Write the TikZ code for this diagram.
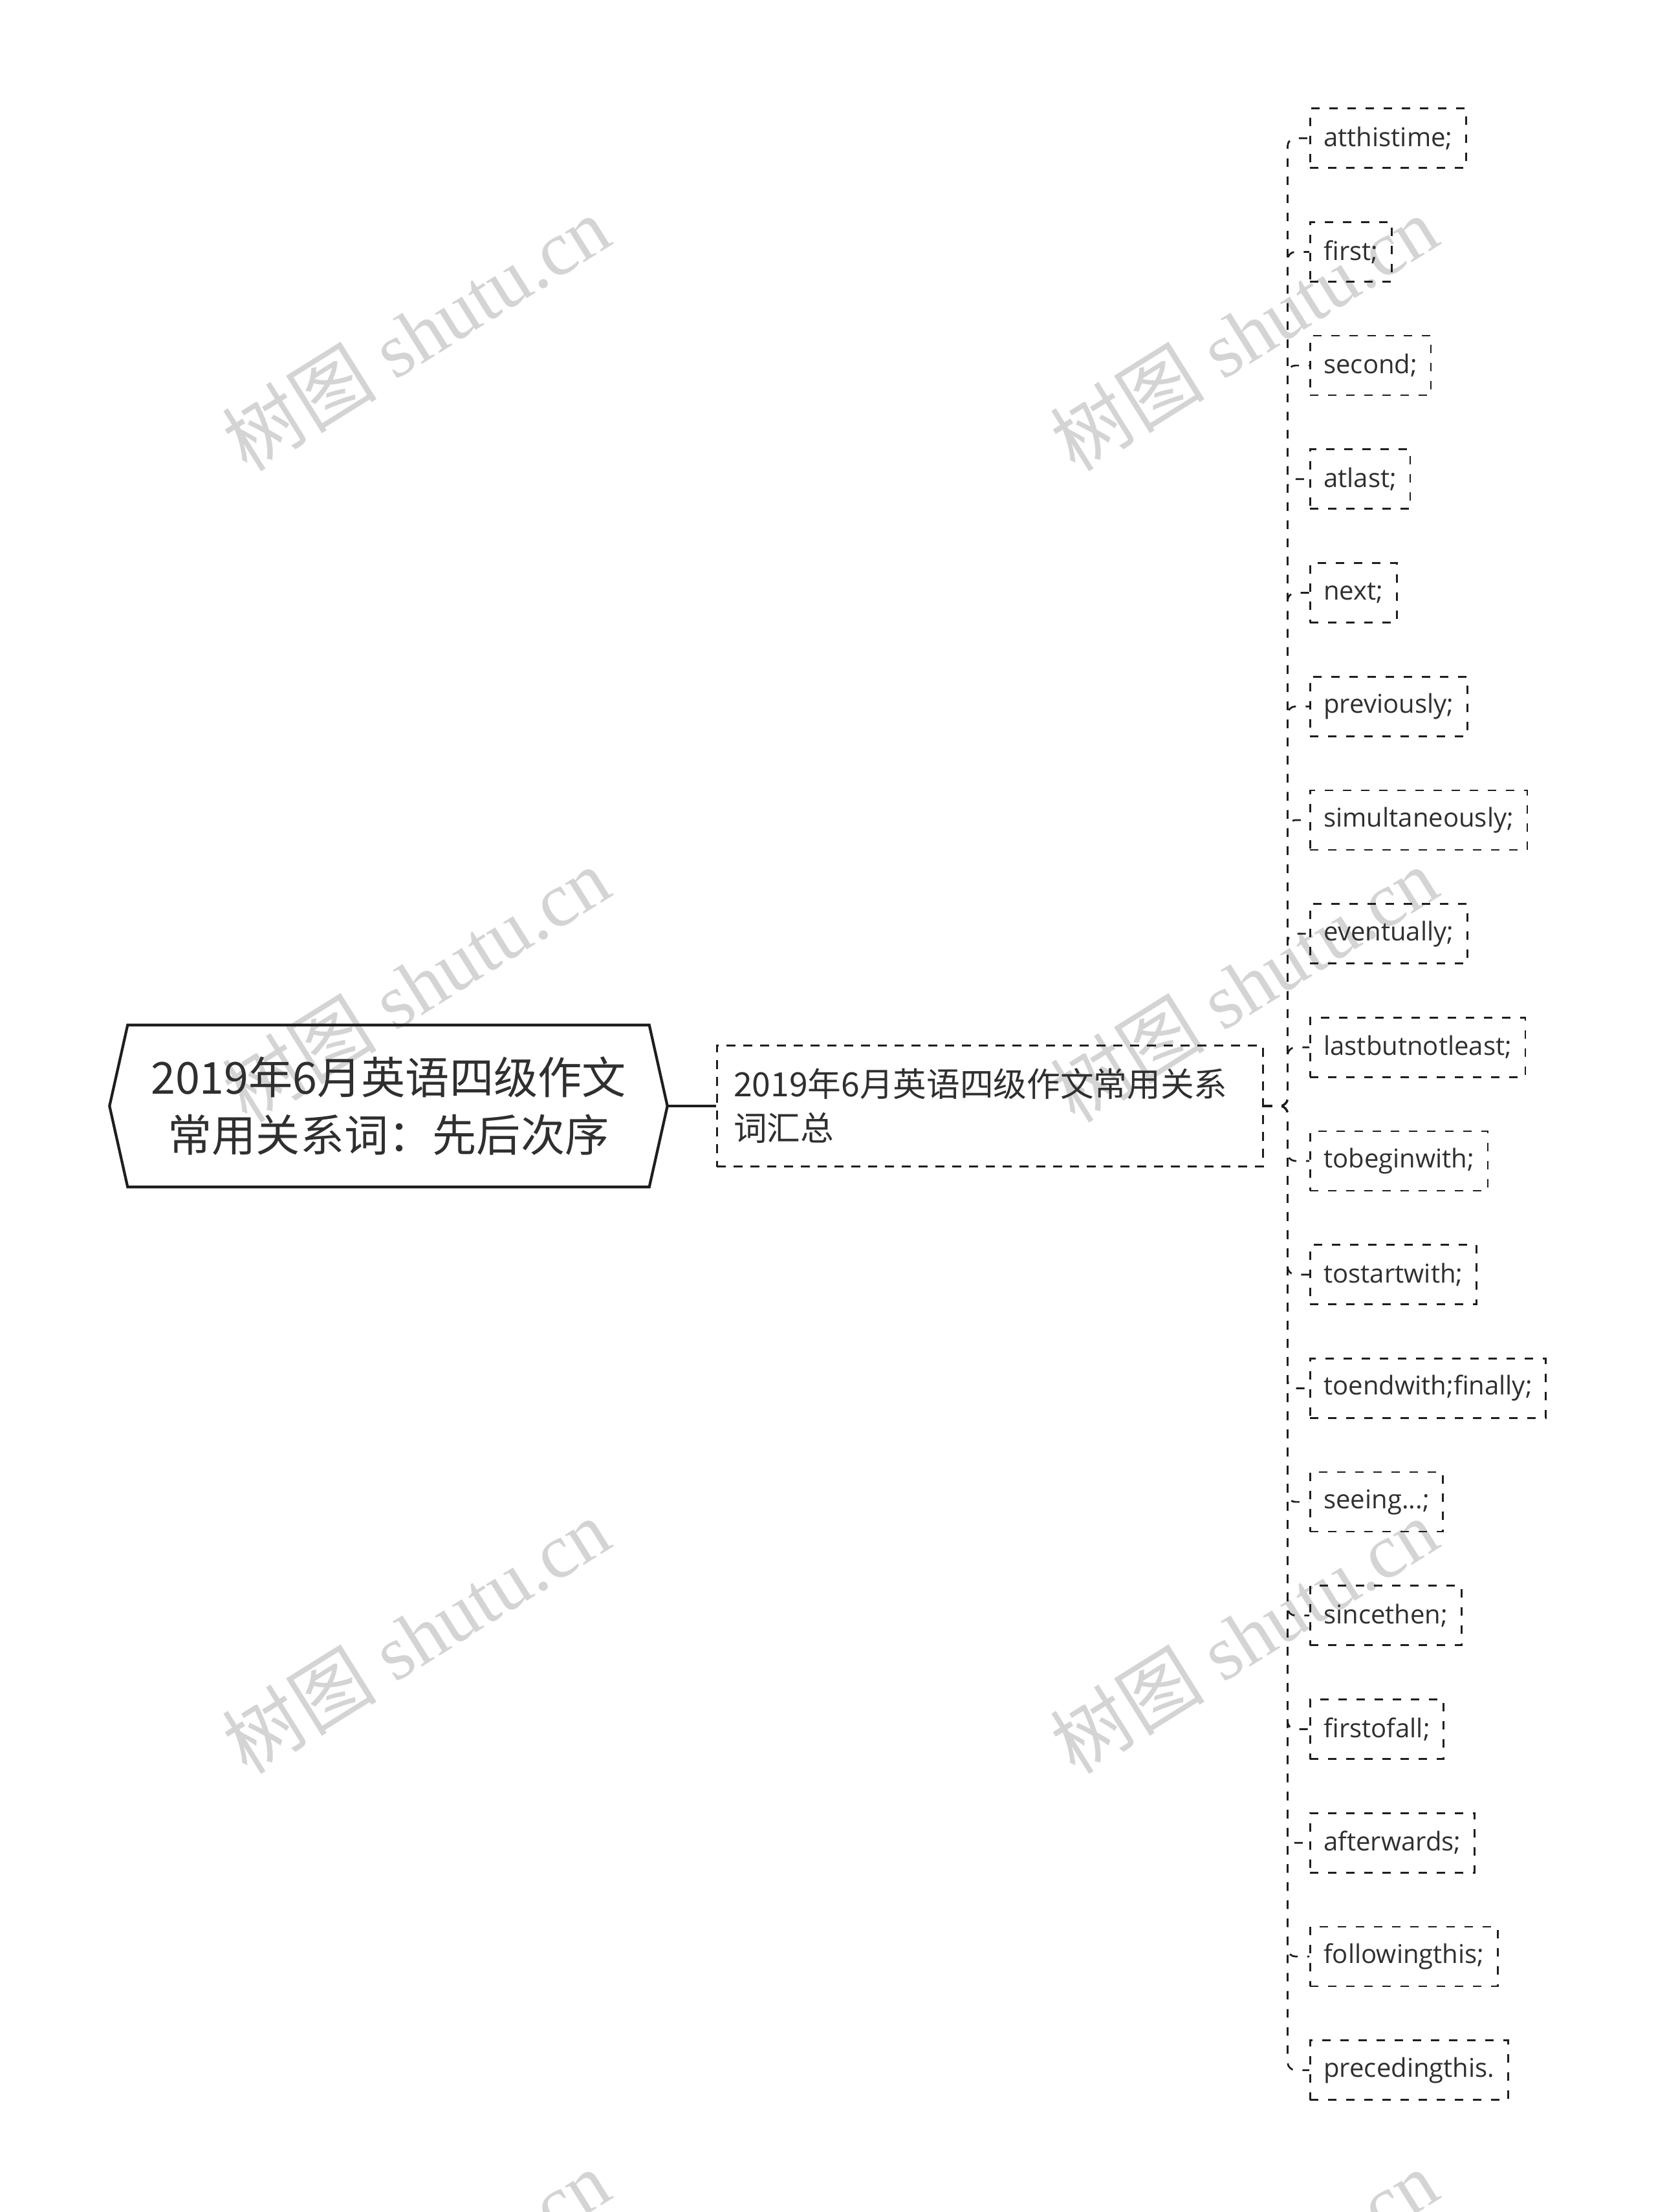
\documentclass[tikz,border=0pt]{standalone}
\usepackage{fontspec}
\setmainfont{Open Sans}
\newfontfamily\cjkfont{Noto Sans CJK SC}
\newfontfamily\wmfont{Liberation Serif}
\usetikzlibrary{positioning}
\definecolor{textgray}{HTML}{2F2F2F}
\definecolor{linegray}{HTML}{1E1E1E}
\definecolor{wmgray}{HTML}{D4D4D4}
\tikzstyle{root} = [rectangle, minimum width=8.61cm, minimum height=2.49cm, align=center, text=textgray, font=\cjkfont\fontsize{19.4pt}{25.3pt}\selectfont]
\tikzstyle{rootline} = [line width=1.2pt, draw=linegray]
\tikzstyle{topic} = [rectangle, draw=linegray, line width=0.8pt, dash pattern=on 0.14cm off 0.12cm, minimum width=8.44cm, minimum height=1.87cm, text width=7.92cm, inner xsep=0.26cm, align=left, text=textgray, font=\cjkfont\fontsize{14.7pt}{19.3pt}\selectfont]
\tikzstyle{leaf} = [rectangle, draw=linegray, line width=0.77pt, dash pattern=on 0.13cm off 0.15cm, minimum height=0.92cm, inner xsep=0.21cm, text=textgray, font=\fontsize{11.4pt}{14pt}\selectfont]
\tikzstyle{link} = [draw=linegray, line width=0.77pt, dash pattern=on 0.13cm off 0.15cm, rounded corners=0.12cm]
\tikzstyle{wm} = [text=wmgray, rotate=32, font=\wmfont\fontsize{34pt}{34pt}\selectfont]

\begin{document}
\begin{tikzpicture}[node distance=1.757cm]
\clip (0,0) rectangle (25.6,-34.2);

% Marca de agua
\node (wm1) [wm] at (6.43,-5.15) {{\cjkfont 树图} shutu.cn};
\node (wm2) [wm] at (19.23,-5.15) {{\cjkfont 树图} shutu.cn};
\node (wm3) [wm] at (6.43,-15.22) {{\cjkfont 树图} shutu.cn};
\node (wm4) [wm] at (19.23,-15.22) {{\cjkfont 树图} shutu.cn};
\node (wm5) [wm] at (6.43,-25.29) {{\cjkfont 树图} shutu.cn};
\node (wm6) [wm] at (19.23,-25.29) {{\cjkfont 树图} shutu.cn};
\node (wm7) [wm] at (6.43,-35.36) {{\cjkfont 树图} shutu.cn};
\node (wm8) [wm] at (19.23,-35.36) {{\cjkfont 树图} shutu.cn};

% Nodos del diagrama
\node (root) [root] at (6.005,-17.10) {2019年6月英语四级作文\\常用关系词：先后次序};
\draw [rootline] (root.west) -- ([xshift=0.28cm]root.north west) -- ([xshift=-0.28cm]root.north east) -- (root.east) -- ([xshift=-0.28cm]root.south east) -- ([xshift=0.28cm]root.south west) -- cycle;
\node (topic) [topic, right=0.75cm of root] {2019年6月英语四级作文常用关系\\词汇总};

\node (l1) [leaf, anchor=west] at (20.24,-2.137) {atthistime;};
\node (l2) [leaf, below=of l1.west, anchor=west] {first;};
\node (l3) [leaf, below=of l2.west, anchor=west] {second;};
\node (l4) [leaf, below=of l3.west, anchor=west] {atlast;};
\node (l5) [leaf, below=of l4.west, anchor=west] {next;};
\node (l6) [leaf, below=of l5.west, anchor=west] {previously;};
\node (l7) [leaf, below=of l6.west, anchor=west] {simultaneously;};
\node (l8) [leaf, below=of l7.west, anchor=west] {eventually;};
\node (l9) [leaf, below=of l8.west, anchor=west] {lastbutnotleast;};
\node (l10) [leaf, below=of l9.west, anchor=west] {tobeginwith;};
\node (l11) [leaf, below=of l10.west, anchor=west] {tostartwith;};
\node (l12) [leaf, below=of l11.west, anchor=west] {toendwith;finally;};
\node (l13) [leaf, below=of l12.west, anchor=west] {seeing...;};
\node (l14) [leaf, below=of l13.west, anchor=west] {sincethen;};
\node (l15) [leaf, below=of l14.west, anchor=west] {firstofall;};
\node (l16) [leaf, below=of l15.west, anchor=west] {afterwards;};
\node (l17) [leaf, below=of l16.west, anchor=west] {followingthis;};
\node (l18) [leaf, below=of l17.west, anchor=west] {precedingthis.};

% Conexiones
\draw [rootline] (root.east) -- (topic.west);
\draw [link] (topic.east) -- ++(0.37,0) |- (l1.west);
\draw [link] (topic.east) -- ++(0.37,0) |- (l2.west);
\draw [link] (topic.east) -- ++(0.37,0) |- (l3.west);
\draw [link] (topic.east) -- ++(0.37,0) |- (l4.west);
\draw [link] (topic.east) -- ++(0.37,0) |- (l5.west);
\draw [link] (topic.east) -- ++(0.37,0) |- (l6.west);
\draw [link] (topic.east) -- ++(0.37,0) |- (l7.west);
\draw [link] (topic.east) -- ++(0.37,0) |- (l8.west);
\draw [link] (topic.east) -- ++(0.37,0) |- (l9.west);
\draw [link] (topic.east) -- ++(0.37,0) |- (l10.west);
\draw [link] (topic.east) -- ++(0.37,0) |- (l11.west);
\draw [link] (topic.east) -- ++(0.37,0) |- (l12.west);
\draw [link] (topic.east) -- ++(0.37,0) |- (l13.west);
\draw [link] (topic.east) -- ++(0.37,0) |- (l14.west);
\draw [link] (topic.east) -- ++(0.37,0) |- (l15.west);
\draw [link] (topic.east) -- ++(0.37,0) |- (l16.west);
\draw [link] (topic.east) -- ++(0.37,0) |- (l17.west);
\draw [link] (topic.east) -- ++(0.37,0) |- (l18.west);

\end{tikzpicture}
\end{document}
